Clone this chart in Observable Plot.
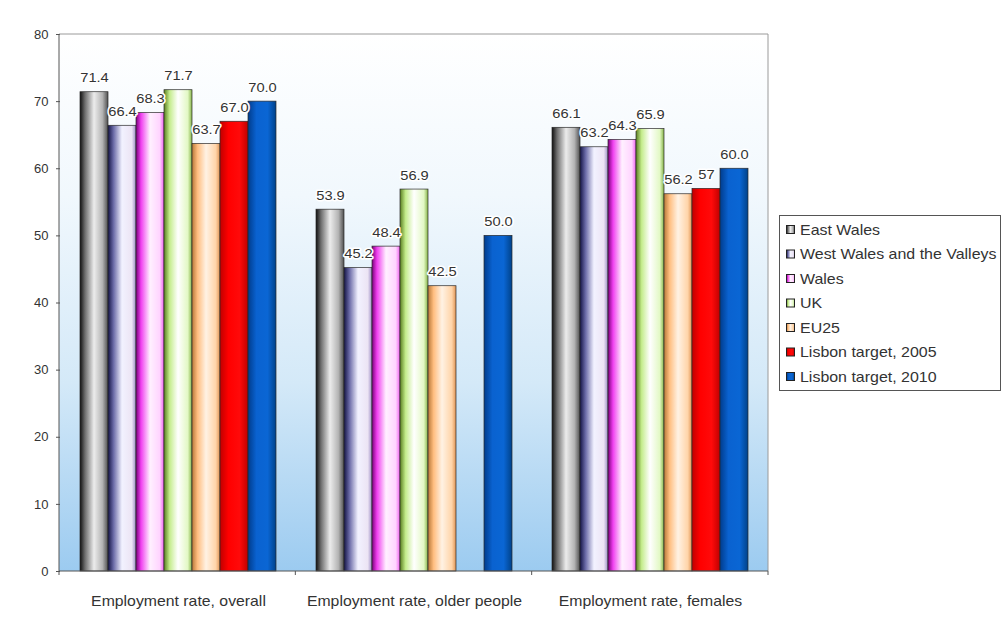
<!DOCTYPE html>
<html>
<head>
<meta charset="utf-8">
<script src="https://cdn.jsdelivr.net/npm/d3@7"></script>
<script src="https://cdn.jsdelivr.net/npm/@observablehq/plot@0.6"></script>
<style>
  html, body { margin: 0; padding: 0; background: #fff; }
  #chart { width: 1004px; height: 621px; }
</style>
</head>
<body>
<div id="chart"></div>
<script>
const categories = ["Employment rate, overall", "Employment rate, older people", "Employment rate, females"];
const series = ["East Wales", "West Wales and the Valleys", "Wales", "UK", "EU25", "Lisbon target, 2005", "Lisbon target, 2010"];
const overall = [71.4, 66.4, 68.3, 71.7, 63.7, 67.0, 70.0];
const olderPeople = [53.9, 45.2, 48.4, 56.9, 42.5, null, 50.0];
const females = [66.1, 63.2, 64.3, 65.9, 56.2, 57, 60.0];
const overallLabels = ["71.4", "66.4", "68.3", "71.7", "63.7", "67.0", "70.0"];
const olderLabels = ["53.9", "45.2", "48.4", "56.9", "42.5", "", "50.0"];
const femalesLabels = ["66.1", "63.2", "64.3", "65.9", "56.2", "57", "60.0"];
const yTicks = [0, 10, 20, 30, 40, 50, 60, 70, 80];

// gradient stops per series (horizontal cylinder shading)
const gradientStops = [
  [[0, "#101010"], [0.18, "#6e6e6e"], [0.5, "#ececec"], [0.8, "#b4b4b4"], [1, "#505050"]],
  [[0, "#141446"], [0.2, "#6c6ca8"], [0.5, "#f2f2ff"], [0.85, "#ece4f4"], [1, "#9a8cc4"]],
  [[0, "#7a007a"], [0.18, "#f040f0"], [0.5, "#fff0ff"], [0.85, "#ffd4ff"], [1, "#f060f0"]],
  [[0, "#5a8020"], [0.2, "#c4ec8c"], [0.5, "#ffffff"], [0.85, "#e2f8c4"], [1, "#86b448"]],
  [[0, "#b87838"], [0.2, "#ffbe80"], [0.5, "#fff2e4"], [0.85, "#ffd4a8"], [1, "#e09454"]],
  [[0, "#c00000"], [0.3, "#ff0000"], [0.7, "#ff0a0a"], [1, "#c00000"]],
  [[0, "#003c8c"], [0.3, "#0a62d0"], [0.7, "#0a66d4"], [1, "#00428a"]]
];

const data = [];
[[overall, overallLabels], [olderPeople, olderLabels], [females, femalesLabels]].forEach(([vals, labs], ci) => {
  vals.forEach((v, si) => {
    if (v != null) data.push({category: categories[ci], series: series[si], value: v, label: labs[si]});
  });
});

const font = "'Liberation Sans', Arial, sans-serif";

const chart = Plot.plot({
  width: 1004,
  height: 621,
  marginLeft: 59,
  marginRight: 236,
  marginTop: 34,
  marginBottom: 50,
  style: {fontFamily: font, fontSize: "12px", color: "#333", background: "transparent", overflow: "visible"},
  fx: {domain: categories, padding: 0, label: null},
  x: {domain: series, paddingInner: 0, paddingOuter: 0.71, axis: null},
  y: {domain: [0, 80], label: null},
  color: {domain: series, range: series.map((s, i) => `url(#g${i})`)},
  marks: [
    Plot.axisFx({anchor: "bottom", tickSize: 0, tickPadding: 25, fontSize: 14, label: null, fill: "#333"}),
    Plot.axisY({ticks: yTicks, tickSize: 4, tickPadding: 8, fontSize: 13, label: null, fill: "#333", stroke: "#555"}),
    Plot.barY(data, {fx: "category", x: "series", y: "value", fill: "series", stroke: "#2a2a2a", strokeWidth: 0.7}),
    Plot.text(data, {fx: "category", x: "series", y: "value", text: "label", dy: -14, fill: "#333",
      stroke: "white", strokeWidth: 3, paintOrder: "stroke", fontSize: 13})
  ]
});

const svg = d3.select(chart);

// the reference's text is slightly stretched horizontally
const stretchSet = new Set([...categories, ...overallLabels, ...olderLabels, ...femalesLabels].filter(Boolean));
svg.selectAll("text").each(function () {
  const tr = this.getAttribute("transform");
  if (stretchSet.has(this.textContent) && tr && tr.trim().startsWith("translate")) {
    this.setAttribute("transform", tr + " scale(1.13,1)");
  }
});

const fxDesc = chart.scale("fx");
const yDesc = chart.scale("y");
const fx = d3.scaleBand().domain(fxDesc.domain).range(fxDesc.range).padding(0);
const x0 = Math.min(...fxDesc.range), x1 = Math.max(...fxDesc.range);
const yTop = Math.min(...yDesc.range), yBot = Math.max(...yDesc.range);

const defs = svg.insert("defs", ":first-child");
gradientStops.forEach((stops, i) => {
  const g = defs.append("linearGradient").attr("id", `g${i}`).attr("x1", 0).attr("x2", 1).attr("y1", 0).attr("y2", 0);
  stops.forEach(([o, c]) => g.append("stop").attr("offset", o).attr("stop-color", c));
});
const bg = defs.append("linearGradient").attr("id", "bg").attr("x1", 0).attr("x2", 0).attr("y1", 0).attr("y2", 1);
[[0, "#ffffff"], [0.3, "#f1f8fd"], [0.65, "#d4e9f8"], [1, "#9ccbf0"]].forEach(([o, c]) =>
  bg.append("stop").attr("offset", o).attr("stop-color", c));

// background of the plot area, behind everything
const firstG = chart.querySelector("g");
svg.insert("rect", () => firstG)
  .attr("x", x0).attr("y", yTop).attr("width", x1 - x0).attr("height", yBot - yTop)
  .attr("fill", "url(#bg)");

// frame lines
const lines = svg.append("g").attr("fill", "none");
lines.append("path").attr("d", `M${x0},${yTop}H${x1}V${yBot}`).attr("stroke", "#9a9a9a");
lines.append("path").attr("d", `M${x0},${yTop}V${yBot}H${x1}`).attr("stroke", "#555");
const bounds = [x0, ...categories.map(c => fx(c) + fx.bandwidth())];
bounds.forEach(b => lines.append("path").attr("d", `M${b},${yBot}v4`).attr("stroke", "#555"));

// legend
const lg = svg.append("g").attr("font-family", font).attr("fill", "#333").attr("text-anchor", "start");
lg.append("rect").attr("x", 779.5).attr("y", 215.5).attr("width", 221).attr("height", 175)
  .attr("fill", "white").attr("stroke", "#555");
series.forEach((s, i) => {
  const cy = 230 + i * 24.5;
  lg.append("rect").attr("x", 786.5).attr("y", cy - 4.5).attr("width", 8).attr("height", 8)
    .attr("fill", `url(#g${i})`).attr("stroke", "#222").attr("stroke-width", 1);
  lg.append("text").attr("transform", `translate(800,${cy}) scale(1.14,1)`).attr("dy", "0.35em")
    .attr("text-anchor", "start").style("font-size", "14px").text(s);
});

document.getElementById("chart").appendChild(chart);
</script>
</body>
</html>
